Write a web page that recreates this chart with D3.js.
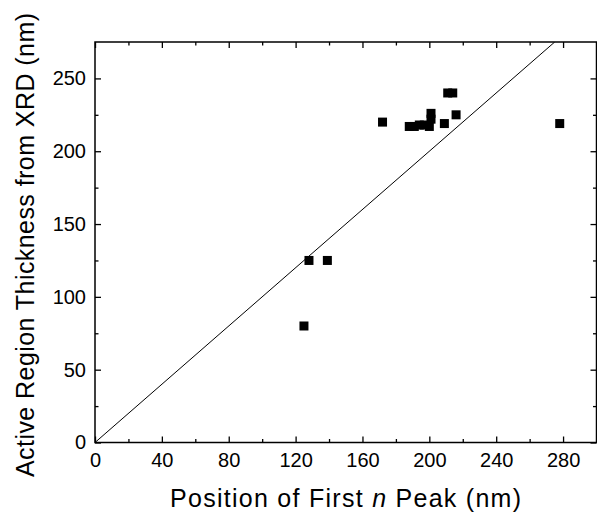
<!DOCTYPE html>
<html>
<head>
<meta charset="utf-8">
<script src="https://cdn.jsdelivr.net/npm/d3@7"></script>
<style>
	body { margin: 0; background: #fff; }
	svg { display: block; font-family: "Liberation Sans", Arial, Helvetica, sans-serif; }
</style>
</head>
<body>
<script>
// Data
const peakPos = [125, 128, 139, 172, 188, 191, 194, 197, 200, 201, 201, 209, 211, 214, 216, 278];
const thickness = [80, 125, 125, 220, 217, 217, 218, 218, 217, 222, 226, 219, 240, 240, 225, 219];
const xTicks = [0, 40, 80, 120, 160, 200, 240, 280];
const yTicks = [0, 50, 100, 150, 200, 250];
const xMinor = d3.range(20, 300, 40);
const yMinor = d3.range(25, 275, 50);

const W = 597, H = 515;
const m = { left: 95, right: 0.5, top: 42, bottom: 72.5 };

const svg = d3.select('body')
	.append('svg')
	.attr('width', W)
	.attr('height', H);

const x = d3.scaleLinear().domain([0, 300]).range([m.left, W - m.right]);
const y = d3.scaleLinear().domain([0, 275]).range([H - m.bottom, m.top]);

const x0 = x.range()[0], x1 = x.range()[1];
const y0 = y.range()[0], y1 = y.range()[1];

// Inward ticks on all four sides
function drawAxis(axis, transform, labels) {
	const g = svg.append('g')
		.attr('transform', transform)
		.call(axis);
	g.select('.domain').remove();
	g.selectAll('line').attr('stroke', '#000').attr('stroke-width', 1.3);
	if (labels) {
		g.selectAll('text').attr('fill', '#000').style('font-size', '20px');
	} else {
		g.selectAll('text').remove();
	}
	return g;
}

const fmt = d3.format('d');
drawAxis(d3.axisBottom(x).tickValues(xTicks).tickSize(-6).tickPadding(10).tickFormat(fmt), `translate(0,${y0})`, true);
drawAxis(d3.axisBottom(x).tickValues(xMinor).tickSize(-3.5), `translate(0,${y0})`, false);
drawAxis(d3.axisTop(x).tickValues(xTicks).tickSize(-6), `translate(0,${y1})`, false);
drawAxis(d3.axisTop(x).tickValues(xMinor).tickSize(-3.5), `translate(0,${y1})`, false);

drawAxis(d3.axisLeft(y).tickValues(yTicks).tickSize(-6).tickPadding(9).tickFormat(fmt), `translate(${x0},0)`, true);
drawAxis(d3.axisLeft(y).tickValues(yMinor).tickSize(-3.5), `translate(${x0},0)`, false);
drawAxis(d3.axisRight(y).tickValues(yTicks).tickSize(-6), `translate(${x1},0)`, false);
drawAxis(d3.axisRight(y).tickValues(yMinor).tickSize(-3.5), `translate(${x1},0)`, false);

// Frame
svg.append('rect')
	.attr('x', x0)
	.attr('y', y1)
	.attr('width', x1 - x0)
	.attr('height', y0 - y1)
	.attr('fill', 'none')
	.attr('stroke', '#000')
	.attr('stroke-width', 1.5);

// y = x reference line
svg.append('defs').append('clipPath').attr('id', 'clip')
	.append('rect')
	.attr('x', x0).attr('y', y1)
	.attr('width', x1 - x0).attr('height', y0 - y1);

svg.append('line')
	.attr('clip-path', 'url(#clip)')
	.attr('x1', x(0)).attr('y1', y(0))
	.attr('x2', x(275)).attr('y2', y(275))
	.attr('stroke', '#000')
	.attr('stroke-width', 1);

// Points
const s = 9;
svg.selectAll('rect.pt')
	.data(peakPos)
	.enter()
	.append('rect')
	.attr('class', 'pt')
	.attr('x', d => x(d) - s / 2)
	.attr('y', (d, i) => y(thickness[i]) - s / 2)
	.attr('width', s)
	.attr('height', s)
	.attr('fill', '#000');

// Axis titles
const xt = svg.append('text')
	.attr('x', 345.5)
	.attr('y', 507)
	.attr('text-anchor', 'middle')
	.attr('textLength', 351)
	.attr('lengthAdjust', 'spacing')
	.style('font-size', '25px');
xt.append('tspan').text('Position of First ');
xt.append('tspan').style('font-style', 'italic').text('n');
xt.append('tspan').text(' Peak (nm)');

svg.append('text')
	.attr('transform', `translate(34,245) rotate(-90)`)
	.attr('text-anchor', 'middle')
	.attr('textLength', 464)
	.attr('lengthAdjust', 'spacing')
	.style('font-size', '25px')
	.text('Active Region Thickness from XRD (nm)');
</script>
</body>
</html>
